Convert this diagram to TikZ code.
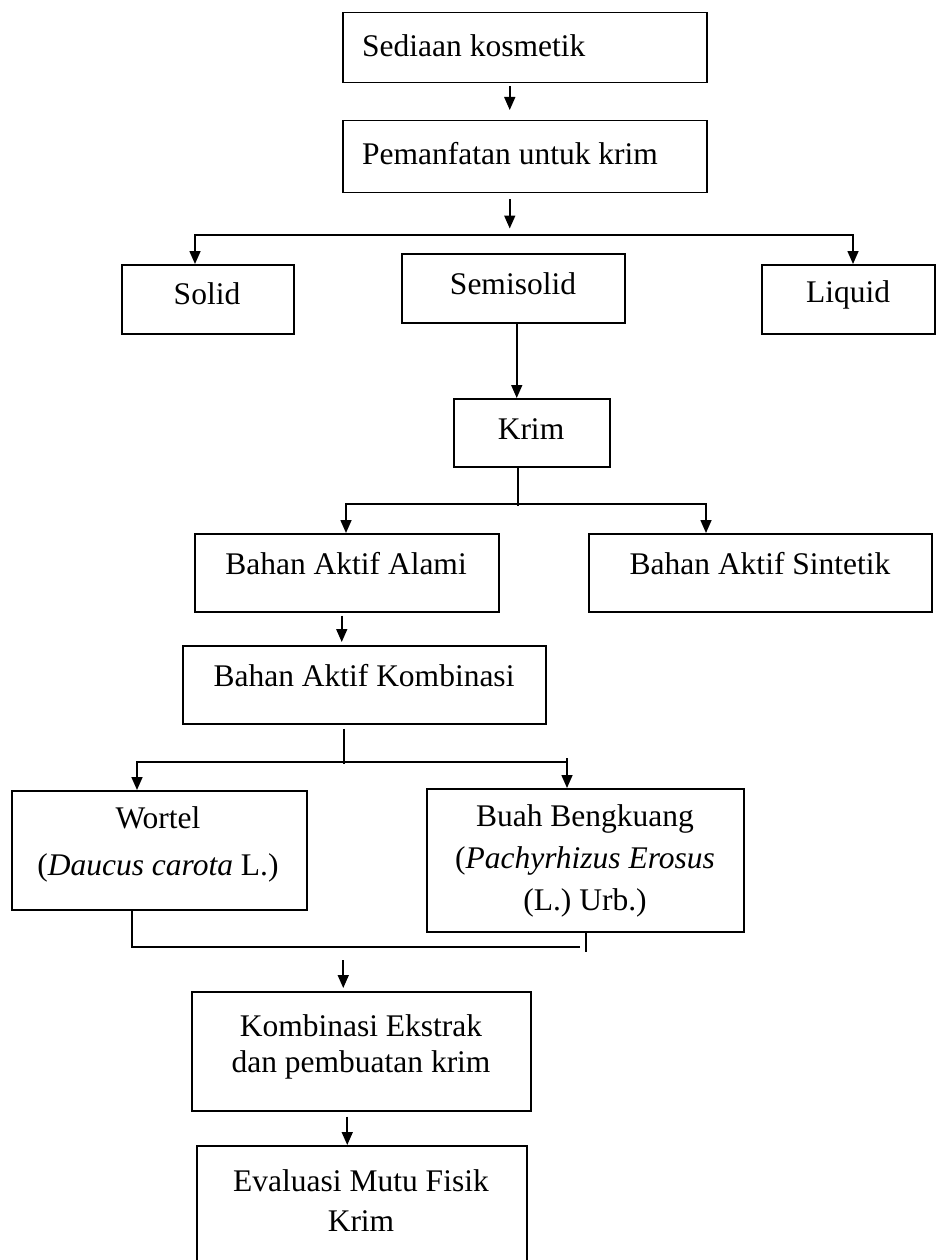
\documentclass[tikz,border=0pt]{standalone}
\usepackage{fontspec}
\setmainfont{Liberation Serif}
\usetikzlibrary{arrows.meta,calc}
\begin{document}
\begin{tikzpicture}[x=1pt,y=-1pt,
  box/.style={draw, line width=1.5pt, inner sep=0pt, anchor=north west},
  lbl/.style={font=\fontsize{31.5}{40}\selectfont, align=center, inner sep=0pt},
  conn/.style={line width=1.6pt, line join=miter},
  arr/.style={conn, -{Triangle[width=11pt,length=13pt]}},
  sarr/.style={conn, {Triangle[width=11pt,length=13pt]}-},
  darr/.style={conn, {Triangle[width=11pt,length=13pt]}-{Triangle[width=11pt,length=13pt]}}]
\useasboundingbox (0,0) rectangle (936,1260);

% boxes
\node[box, minimum width=364pt, minimum height=70pt] (b1) at (342,12) {};
\node[box, minimum width=364pt, minimum height=72pt] (b2) at (342,120) {};
\node[box, minimum width=172pt, minimum height=69pt] (solid) at (121,264) {};
\node[box, minimum width=223pt, minimum height=69pt] (semi) at (401,253) {};
\node[box, minimum width=173pt, minimum height=69pt] (liquid) at (761,264) {};
\node[box, minimum width=156pt, minimum height=68pt] (krim) at (453,398) {};
\node[box, minimum width=304pt, minimum height=78pt] (alami) at (194,533) {};
\node[box, minimum width=343pt, minimum height=78pt] (sint) at (588,533) {};
\node[box, minimum width=363pt, minimum height=78pt] (komb) at (182,645) {};
\node[box, minimum width=295pt, minimum height=119pt] (wortel) at (11,790) {};
\node[box, minimum width=317pt, minimum height=143pt] (buah) at (426,788) {};
\node[box, minimum width=339pt, minimum height=119pt] (ekstrak) at (191,991) {};
\node[box, minimum width=330pt, minimum height=120pt] (eval) at (196,1145) {};

% labels
\node[lbl, anchor=west] (t1) at (362,46) {Sediaan kosmetik};
\node[lbl, anchor=west] (t2) at (362,154) {Pemanfatan untuk krim};
\node[lbl] (tsolid) at (207,294) {Solid};
\node[lbl] (tsemi) at (513,284) {Semisolid};
\node[lbl] (tliquid) at (848,295) {Liquid};
\node[lbl] (tkrim) at (531,429) {Krim};
\node[lbl] (talami) at (346,564) {Bahan Aktif Alami};
\node[lbl] (tsint) at (760,564) {Bahan Aktif Sintetik};
\node[lbl] (tkomb) at (364,676) {Bahan Aktif Kombinasi};
\node[lbl] (twortel) at (158,844) {Wortel\\[7pt](\textit{Daucus carota} L.)};
\node[lbl] (tbuah) at (585,861) {Buah Bengkuang\\[2pt](\textit{Pachyrhizus Erosus}\\[2pt](L.) Urb.)};
\node[lbl] (tekstrak) at (361,1047) {Kombinasi Ekstrak\\[-4pt]dan pembuatan krim};
\node[lbl] (teval) at (361,1201) {Evaluasi Mutu Fisik\\Krim};

% connectors
\draw[arr] ($(b1.south)+(-15,3)$) -- ($(b2.north)+(-15,-10)$);
\draw[arr] ($(b2.south)+(-15,6)$) -- ($(b2.south)+(-15,35)$);

\coordinate (h1) at (195,235);
\coordinate (h2) at (853,235);
\draw[darr] (h1 |- solid.north) -- (h1) -- (h2) -- (h2 |- liquid.north);

\draw[arr] ($(semi.south)+(3.5,0)$) coordinate (s1) -- (s1 |- krim.north);

\draw[conn] ($(krim.south)+(-14,0)$) coordinate (k1) -- ++(0,38);
\coordinate (h3) at (346,504);
\coordinate (h4) at (706,504);
\draw[darr] (h3 |- alami.north) -- (h3) -- (h4) -- (h4 |- sint.north);

\draw[arr] ($(alami.south)+(-5,3)$) coordinate (a1) -- ($(a1 |- komb.north)+(0,-3)$);

\draw[conn] ($(komb.south)+(-20,4)$) coordinate (c1) -- ++(0,35);
\coordinate (h5) at (137,762);
\coordinate (h6) at (567,762);
\draw[sarr] (h5 |- wortel.north) -- (h5) -- (h6);
\draw[arr] ($(h6)+(0,-4)$) -- (h6 |- buah.north);

\coordinate (h7) at (132,947);
\draw[conn] ($(wortel.south west)+(121,0)$) -- (h7) -- ++(448,0);
\draw[conn] ($(buah.south west)+(160,0)$) -- ++(0,19);

\draw[arr] ($(ekstrak.north)+(-18,-31)$) -- ($(ekstrak.north)+(-18,-3)$);
\draw[arr] ($(ekstrak.south)+(-14,5)$) coordinate (e1) -- (e1 |- eval.north);
\end{tikzpicture}
\end{document}
